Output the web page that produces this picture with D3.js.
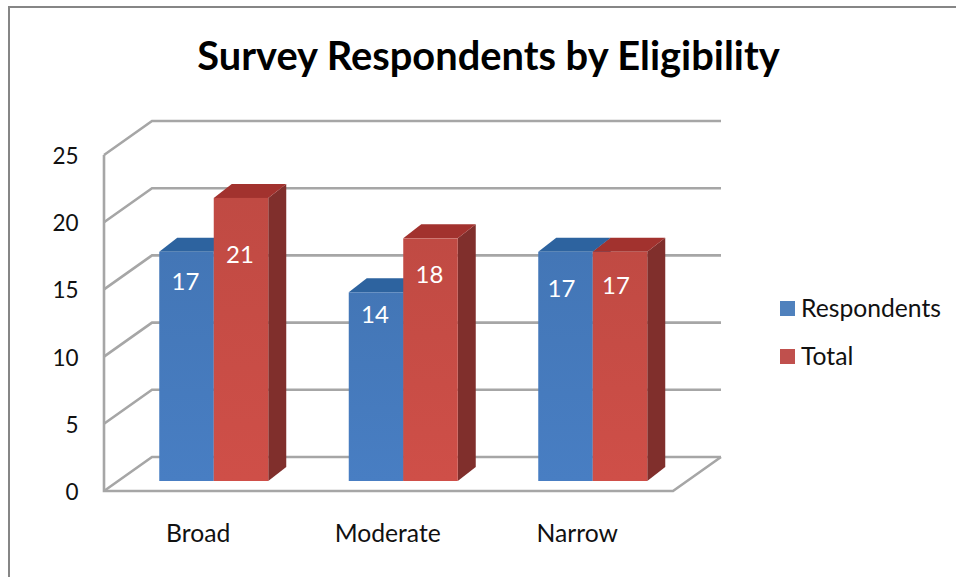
<!DOCTYPE html>
<html><head><meta charset="utf-8">
<script src="https://cdn.jsdelivr.net/npm/d3@7/dist/d3.min.js"></script>
<style>html,body{margin:0;padding:0;background:#fff}svg{display:block}text{font-family:Lato,"Open Sans",sans-serif}</style>
</head><body><svg id="c" width="956" height="577"></svg>
<script>
const categories = ["Broad","Moderate","Narrow"];
const seriesNames = ["Respondents","Total"];
const respondents = [17,14,17];
const total = [21,18,17];
const yTicks = [0,5,10,15,20,25];
const seriesColors = ["#4f81bd","#c0504d"];
const faceColors = ["#4579bb","#c64c45"];
const sideColors = ["#2c5f94","#802f2c"];
const topColors = ["#2d639f","#a2322e"];
// Where each data label sits in axis units
const respondentLabelLevels = [14.8,12.35,14.3];
const totalLabelLevels = [16.8,15.3,14.5];
const labelNudge = [0,0,-3];

const svg = d3.select("#c");
const W=956,H=577;
svg.append("rect").attr("width",W).attr("height",H).attr("fill","#fff");
svg.append("path").attr("d","M9,577V7H956").attr("fill","none").attr("stroke","#868686").attr("stroke-width",2);

const front={x0:104,x1:673}, wall={dx:48,dy:-34};
const y=d3.scaleLinear().domain([0,25]).range([491,155]);
const barY=d3.scaleLinear().domain([0,25]).range([481,144]);
const depth={dx:18,dy:-14};
const x=d3.scaleBand().domain(categories).range([104.5,673]).paddingInner(0);
const x1=d3.scaleBand().domain(seriesNames).range([0,109]);
const barShift=14.5;
const grid="#a6a6a6";
const g=svg.append("g").attr("fill","none").attr("stroke",grid).attr("stroke-width",2.6);
yTicks.forEach(t=>{
  g.append("path").attr("d",`M${front.x0},${y(t)}L${front.x0+wall.dx},${y(t)+wall.dy}H${front.x1+wall.dx}`);
});
g.append("path").attr("d",`M${front.x0},${y(25)}V${y(0)}H${front.x1}L${front.x1+wall.dx},${y(0)+wall.dy}`);

const defs=svg.append("defs");
faceColors.forEach((c,i)=>{
  const lg=defs.append("linearGradient").attr("id","f"+i).attr("x1",0).attr("x2",0).attr("y1",0).attr("y2",1);
  lg.append("stop").attr("offset",0).attr("stop-color",d3.color(c).darker(0.08));
  lg.append("stop").attr("offset",1).attr("stop-color",d3.color(c).brighter(0.12));
});

const values=[respondents,total];
const labelLevels=[respondentLabelLevels,totalLabelLevels];
const bars=svg.append("g");
categories.forEach((cat,ci)=>{
  const cx=x(cat)+x.bandwidth()/2;
  const left=cx+barShift-x1.range()[1]/2;
  [0,1].forEach(si=>{
    const v=values[si][ci];
    const bx=left+x1(seriesNames[si]), bw=x1.bandwidth();
    const yt=barY(v), yb=barY(0);
    bars.append("path").attr("fill",sideColors[si]).attr("d",
      `M${bx+bw},${yt}l${depth.dx},${depth.dy}V${yb+depth.dy}l${-depth.dx},${-depth.dy}Z`);
    bars.append("path").attr("fill",topColors[si]).attr("d",
      `M${bx},${yt}l${depth.dx},${depth.dy}h${bw}l${-depth.dx},${-depth.dy}Z`);
    bars.append("rect").attr("x",bx).attr("y",yt).attr("width",bw).attr("height",yb-yt).attr("fill",`url(#f${si})`);
  });
  [0,1].forEach(si=>{
    const v=values[si][ci];
    const bx=left+x1(seriesNames[si]), bw=x1.bandwidth();
    svg.append("text").attr("x",bx+bw/2-1+labelNudge[ci]).attr("y",barY(labelLevels[si][ci])+8.5).attr("text-anchor","middle")
      .attr("fill","#fff").attr("font-size",24).text(v);
  });
  svg.append("text").attr("x",cx-1).attr("y",542).attr("text-anchor","middle")
    .attr("fill","#111").attr("font-size",24.7).text(cat);
});

yTicks.forEach(t=>{
  svg.append("text").attr("x",78.5).attr("y",y(t)+9).attr("text-anchor","end")
    .attr("fill","#111").attr("font-size",22.5).text(t);
});

svg.append("text").attr("x",488.5).attr("y",70).attr("text-anchor","middle")
  .attr("font-weight",700).attr("font-size",39.8).attr("fill","#000").text("Survey Respondents by Eligibility");

const legendY=d3.scalePoint().domain(seriesNames).range([308.5,356.5]);
seriesNames.forEach((n,i)=>{
  svg.append("rect").attr("x",780).attr("y",legendY(n)-7.5).attr("width",15).attr("height",15).attr("fill",seriesColors[i]);
  svg.append("text").attr("x",801).attr("y",legendY(n)+8).attr("fill","#111").attr("font-size",24.7).text(n);
});
</script></body></html>
